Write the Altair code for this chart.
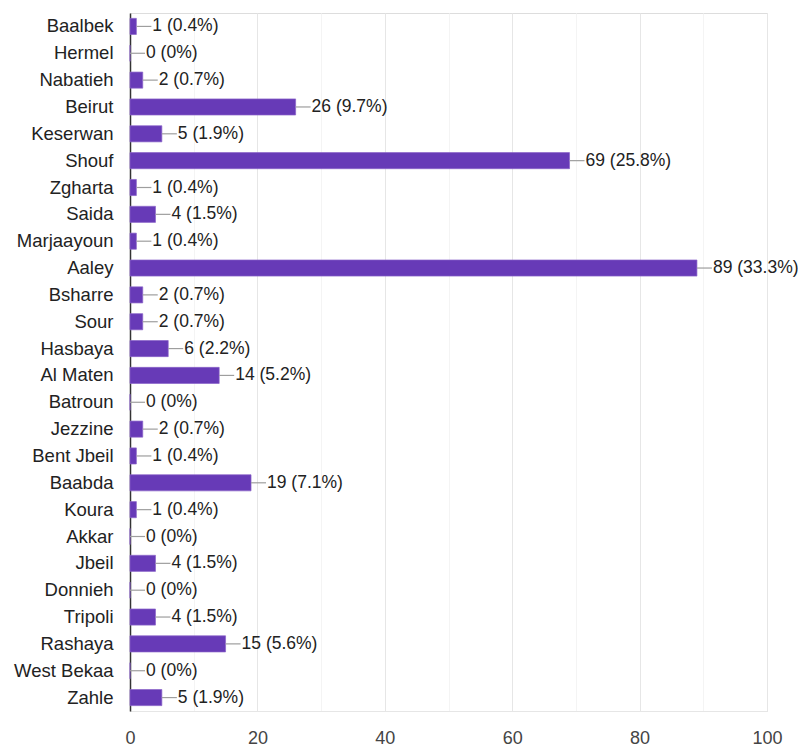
import altair as alt
import pandas as pd

regions = ["Baalbek", "Hermel", "Nabatieh", "Beirut", "Keserwan", "Shouf", "Zgharta",
           "Saida", "Marjaayoun", "Aaley", "Bsharre", "Sour", "Hasbaya", "Al Maten",
           "Batroun", "Jezzine", "Bent Jbeil", "Baabda", "Koura", "Akkar", "Jbeil",
           "Donnieh", "Tripoli", "Rashaya", "West Bekaa", "Zahle"]
counts = [1, 0, 2, 26, 5, 69, 1, 4, 1, 89, 2, 2, 6, 14, 0, 2, 1, 19, 1, 0, 4, 0, 4, 15, 0, 5]
percents = ["0.4%", "0%", "0.7%", "9.7%", "1.9%", "25.8%", "0.4%", "1.5%", "0.4%", "33.3%",
            "0.7%", "0.7%", "2.2%", "5.2%", "0%", "0.7%", "0.4%", "7.1%", "0.4%", "0%",
            "1.5%", "0%", "1.5%", "5.6%", "0%", "1.9%"]
x_ticks = [0, 10, 20, 30, 40, 50, 60, 70, 80, 90, 100]

df = pd.DataFrame({
    "region": regions,
    "count": counts,
    "label": [f"{c} ({p})" for c, p in zip(counts, percents)],
})

FONT = "Liberation Sans"

x = alt.X("count:Q",
          scale=alt.Scale(domain=[0, 100], nice=False),
          axis=alt.Axis(values=x_ticks, title=None,
                        labelExpr="datum.value % 20 == 0 ? datum.label : ''",
                        labelFont=FONT, labelFontSize=18, labelColor="#444444",
                        labelPadding=18, labelFlush=False, ticks=False, domain=True,
                        domainColor="#e6e6e6",
                        grid=True,
                        gridColor={"condition": {"test": "datum.value % 20 == 0", "value": "#e6e6e6"},
                                   "value": "#f4f4f4"}))
y = alt.Y("region:N", sort=regions,
          scale=alt.Scale(paddingInner=0.4, paddingOuter=0.2),
          axis=alt.Axis(title=None, labelFont=FONT, labelFontSize=18.5, labelColor="#222222",
                        labelPadding=17, ticks=False, domain=True, domainColor="#333333",
                        domainWidth=1.5, grid=False))

base = alt.Chart(df)

bars = base.mark_bar(color="#673ab7", stroke="#8a63c9", strokeWidth=0.7).encode(x=x, y=y)

connectors = base.mark_rule(color="#9e9e9e", strokeWidth=1.2, x2Offset=15).encode(
    x=alt.X("count:Q"), x2="count:Q", y=y)

labels = base.mark_text(align="left", baseline="middle", dx=16, font=FONT, fontSize=17.5,
                        color="#222222").encode(x=alt.X("count:Q"), y=y, text="label:N")

chart = (bars + connectors + labels).properties(
    width=637, height=698,
    autosize=alt.AutoSizeParams(type="none"),
    padding={"left": 122, "top": 5, "right": 31, "bottom": 40},
).configure_view(stroke="#e6e6e6").configure(background="white")

chart.save("out.html", embed_options={"renderer": "svg", "actions": False})
